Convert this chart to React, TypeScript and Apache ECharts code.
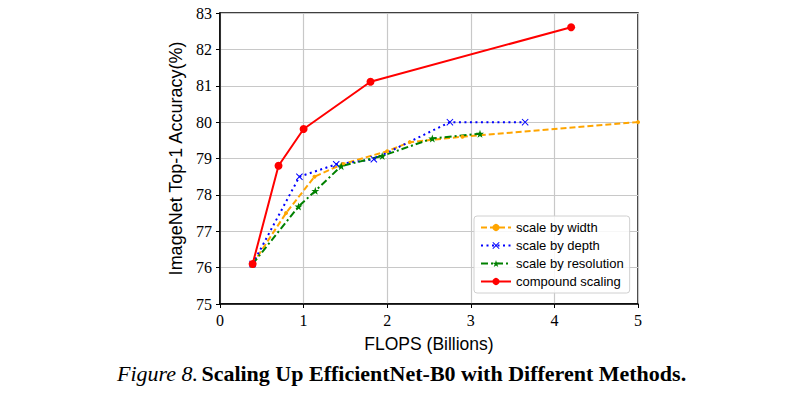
import React, { useEffect, useRef } from "react";
import * as echarts from "echarts";

const widthSeries: [number, number][] = [
  [0.39, 76.1], [0.79, 77.5], [1.13, 78.5], [1.47, 78.85], [2.0, 79.2], [2.27, 79.45], [2.9, 79.6], [5.0, 80.0],
];
const depthSeries: [number, number][] = [
  [0.39, 76.1], [0.95, 78.5], [1.39, 78.84], [1.84, 78.98], [2.75, 80.0], [3.65, 80.0],
];
const resolutionSeries: [number, number][] = [
  [0.39, 76.1], [0.94, 77.68], [1.14, 78.11], [1.45, 78.79], [1.94, 79.07], [2.54, 79.55], [3.11, 79.68],
];
const compoundSeries: [number, number][] = [
  [0.39, 76.1], [0.7, 78.8], [1.0, 79.81], [1.8, 81.11], [4.2, 82.61],
];
const seriesNames = ["scale by width", "scale by depth", "scale by resolution", "compound scaling"];

const X_MARK = "path://M1,0 L5,4 L9,0 L10,1 L6,5 L10,9 L9,10 L5,6 L1,10 L0,9 L4,5 L0,1 Z";
const STAR = "path://M5,0 L6.2,3.6 L10,3.6 L6.9,5.9 L8.1,9.5 L5,7.3 L1.9,9.5 L3.1,5.9 L0,3.6 L3.8,3.6 Z";

export default function App() {
  const ref = useRef<HTMLDivElement>(null);
  useEffect(() => {
    if (!ref.current) return;
    const chart = echarts.init(ref.current, null, { renderer: "svg" });
    const tickFont = { fontFamily: "Liberation Serif", fontSize: 16, color: "#000" };
    chart.setOption({
      animation: false,
      backgroundColor: "#fff",
      grid: { left: 220, right: 167, top: 13, bottom: 90, show: true, borderColor: "#000", borderWidth: 1.5 },
      xAxis: {
        type: "value", min: 0, max: 5, interval: 1,
        name: "FLOPS (Billions)", nameLocation: "middle", nameGap: 31,
        nameTextStyle: { fontFamily: "Liberation Sans", fontSize: 17.5, color: "#000" },
        axisLine: { show: true, lineStyle: { color: "#000", width: 1.5 } },
        axisTick: { show: true, length: 4, inside: false, lineStyle: { color: "#000" } },
        axisLabel: { ...tickFont, margin: 8 },
        splitLine: { show: true, lineStyle: { color: "#c8c8c8", width: 1.2 } },
      },
      yAxis: {
        type: "value", min: 75, max: 83, interval: 1,
        name: "ImageNet Top-1 Accuracy(%)", nameLocation: "middle", nameGap: 33,
        nameTextStyle: { fontFamily: "Liberation Sans", fontSize: 18, color: "#000" },
        axisLine: { show: true, lineStyle: { color: "#000", width: 1.5 } },
        axisTick: { show: true, length: 4, lineStyle: { color: "#000" } },
        axisLabel: { ...tickFont, margin: 8 },
        splitLine: { show: true, lineStyle: { color: "#c8c8c8", width: 1.2 } },
      },
      legend: {
        orient: "vertical", left: 474, top: 216, width: 162,
        padding: [5, 6, 5, 6], itemGap: 5, itemWidth: 30, itemHeight: 9,
        backgroundColor: "rgba(255,255,255,0.85)", borderColor: "#d0d0d0", borderWidth: 1, borderRadius: 3,
        textStyle: { fontFamily: "Liberation Sans", fontSize: 13, color: "#000" },
        data: seriesNames,
      },
      series: [
        {
          name: seriesNames[0], type: "line", data: widthSeries, color: "#FFA500",
          symbol: "circle", symbolSize: 4,
          lineStyle: { width: 2, type: [6, 3] },
        },
        {
          name: seriesNames[1], type: "line", data: depthSeries, color: "#0000FF",
          symbol: X_MARK, symbolSize: 7,
          lineStyle: { width: 2, type: [2, 3.5] },
        },
        {
          name: seriesNames[2], type: "line", data: resolutionSeries, color: "#008000",
          symbol: STAR, symbolSize: 8,
          lineStyle: { width: 2, type: [7, 3, 2, 3] },
        },
        {
          name: seriesNames[3], type: "line", data: compoundSeries, color: "#FF0000",
          symbol: "circle", symbolSize: 8,
          lineStyle: { width: 2 },
        },
      ],
      graphic: [
        {
          type: "text", left: 117, top: 362,
          style: {
            text: "{i|Figure 8.} {b|Scaling Up EfficientNet-B0 with Different Methods.}",
            rich: {
              i: { fontFamily: "Liberation Serif", fontStyle: "italic", fontSize: 22, fill: "#000" },
              b: { fontFamily: "Liberation Serif", fontWeight: "bold", fontSize: 22, fill: "#000" },
            },
          },
        },
      ],
    });
    return () => chart.dispose();
  }, []);
  return <div ref={ref} style={{ position: "fixed", left: 0, top: 0, width: 805, height: 394 }} />;
}
